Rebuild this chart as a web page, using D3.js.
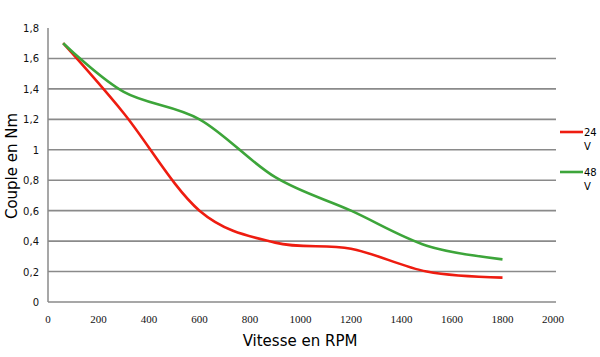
<!DOCTYPE html>
<html><head><meta charset="utf-8">
<script src="https://cdn.jsdelivr.net/npm/d3@7"></script>
<style>body{margin:0;background:#fff}</style>
</head><body>
<svg id="c" width="600" height="357"></svg>
<script>
const speeds = [60, 300, 600, 900, 1200, 1500, 1800];
const torque24 = [1.70, 1.24, 0.60, 0.39, 0.35, 0.20, 0.16];
const torque48 = [1.70, 1.38, 1.20, 0.82, 0.60, 0.37, 0.28];
const seriesNames = ["24\nV", "48\nV"];
const seriesColors = ["#ee1c10", "#3da53a"];
const xTicks = [0,200,400,600,800,1000,1200,1400,1600,1800,2000];
const yTicks = [0,0.2,0.4,0.6,0.8,1,1.2,1.4,1.6,1.8];

const svg = d3.select("#c");
const x = d3.scaleLinear().domain([0,2000]).range([48,553]);
const y = d3.scaleLinear().domain([0,1.8]).range([302,28]);
const fmt = v => String(v).replace(".", ",");

// gridlines
svg.append("g").selectAll("line").data(yTicks.filter(v=>v>0 && v<1.8)).join("line")
  .attr("x1",48).attr("x2",556).attr("y1",d=>y(d)).attr("y2",d=>y(d))
  .attr("stroke","#8a8a8a").attr("stroke-width",1.6);
// axes lines
svg.append("line").attr("x1",48).attr("x2",48).attr("y1",28).attr("y2",302).attr("stroke","#8a8a8a").attr("stroke-width",1.5);
svg.append("line").attr("x1",48).attr("x2",556).attr("y1",302).attr("y2",302).attr("stroke","#8a8a8a").attr("stroke-width",1.6);

// y ticks
svg.append("g").selectAll("text").data(yTicks).join("text")
  .attr("x",39).attr("y",d=>y(d)+4).attr("text-anchor","end")
  .attr("font-family","DejaVu Sans, sans-serif").attr("font-size",10).attr("fill","#111")
  .text(fmt);
// x ticks
svg.append("g").selectAll("text").data(xTicks).join("text")
  .attr("x",d=>x(d)).attr("y",323).attr("text-anchor","middle")
  .attr("font-family","Liberation Serif, serif").attr("font-size",11).attr("fill","#111")
  .text(d=>d);

// titles
svg.append("text").attr("x",300).attr("y",346).attr("text-anchor","middle")
  .attr("font-family","DejaVu Sans, sans-serif").attr("font-size",15).attr("fill","#000").text("Vitesse en RPM");
svg.append("text").attr("transform","translate(17,166) rotate(-90)").attr("text-anchor","middle")
  .attr("font-family","DejaVu Sans, sans-serif").attr("font-size",15).attr("fill","#000").text("Couple en Nm");

// lines
const line = d3.line().x(d=>x(d[0])).y(d=>y(d[1])).curve(d3.curveCatmullRom.alpha(0));
[torque24, torque48].forEach((vals,i)=>{
  svg.append("path").datum(speeds.map((s,j)=>[s,vals[j]]))
    .attr("d",line).attr("fill","none").attr("stroke",seriesColors[i]).attr("stroke-width",2.6);
});
// draw red over green? red later in original near start: order ok

// legend
const legY = [132, 172];
seriesNames.forEach((n,i)=>{
  svg.append("line").attr("x1",560).attr("x2",583).attr("y1",legY[i]).attr("y2",legY[i])
    .attr("stroke",seriesColors[i]).attr("stroke-width",2.6);
  const parts = n.split("\n");
  parts.forEach((p,k)=>{
    svg.append("text").attr("x",584).attr("y",legY[i]+4+k*14)
      .attr("font-family","DejaVu Sans, sans-serif").attr("font-size",10).attr("fill","#000").text(p);
  });
});
</script>
</body></html>
